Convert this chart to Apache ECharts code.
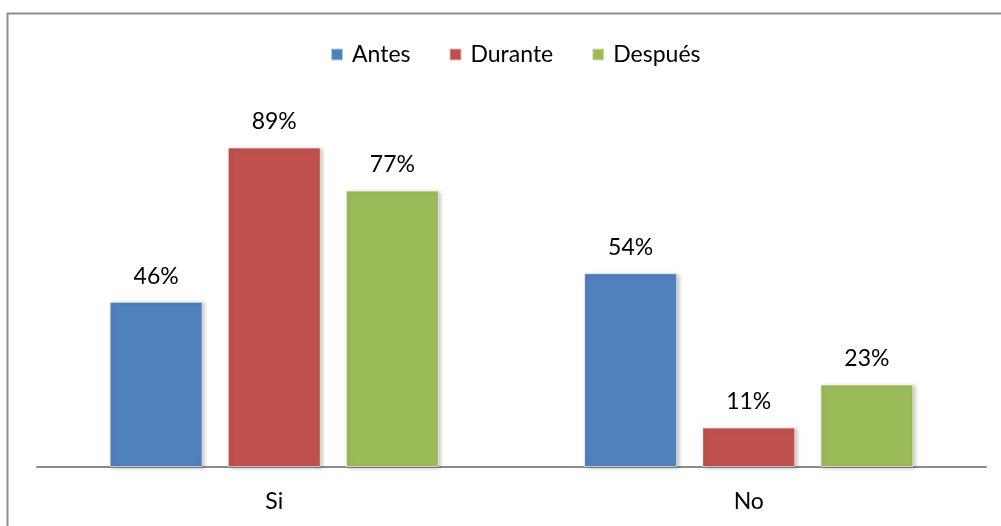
<!DOCTYPE html>
<html>
<head>
<meta charset="utf-8">
<script src="https://cdn.jsdelivr.net/npm/echarts@6/dist/echarts.min.js"></script>
<style>
  html, body { margin: 0; padding: 0; background: #fff; }
  #main { width: 1001px; height: 526px; }
</style>
</head>
<body>
<div id="main"></div>
<script>
// categorias y valores (%)
const categories = ['Si', 'No'];
const seriesNames = ['Antes', 'Durante', 'Después'];
const antes = [46, 54];
const durante = [89, 11];
const despues = [77, 23];
const colors = ['#4F81BD', '#C0504D', '#9BBB59'];

const font = 'Lato, "Open Sans", sans-serif';

let myChart = echarts.init(document.getElementById('main'));

function makeSeries(name, data, color) {
    return {
        name: name,
        type: 'bar',
        data: data,
        barWidth: 93,
        barGap: '27%',
        itemStyle: {
            color: color,
            borderColor: 'rgba(255,255,255,0.6)',
            borderWidth: 1,
            shadowColor: 'rgba(0,0,0,0.25)',
            shadowBlur: 4,
            shadowOffsetX: 2,
            shadowOffsetY: 1
        },
        label: {
            show: true,
            position: 'top',
            distance: 14,
            formatter: '{c}%',
            color: '#000',
            fontSize: 23,
            fontFamily: font
        }
    };
}

let option = {
    animation: false,
    graphic: [
        {
            type: 'rect',
            shape: { x: 7.5, y: 13.5, width: 1000, height: 530 },
            style: { fill: 'none', stroke: '#8c8c8c', lineWidth: 2 },
            silent: true
        }
    ],
    legend: {
        top: 38,
        left: 325,
        itemWidth: 12,
        itemHeight: 12,
        itemGap: 38,
        icon: 'rect',
        textStyle: { color: '#000', fontSize: 23, fontFamily: font, padding: [0, 0, 0, 4] },
        data: seriesNames
    },
    grid: {
        left: 37,
        right: 15,
        top: 108,
        bottom: 59
    },
    xAxis: {
        type: 'category',
        data: categories,
        axisLine: { lineStyle: { color: '#8c8c8c', width: 2 } },
        axisTick: { show: false },
        axisLabel: { color: '#000', fontSize: 23, fontFamily: font, margin: 23 }
    },
    yAxis: {
        type: 'value',
        min: 0,
        max: 100,
        show: false,
        splitLine: { show: false }
    },
    series: [
        makeSeries(seriesNames[0], antes, colors[0]),
        makeSeries(seriesNames[1], durante, colors[1]),
        makeSeries(seriesNames[2], despues, colors[2])
    ]
};
option && myChart.setOption(option);
</script>
</body>
</html>
